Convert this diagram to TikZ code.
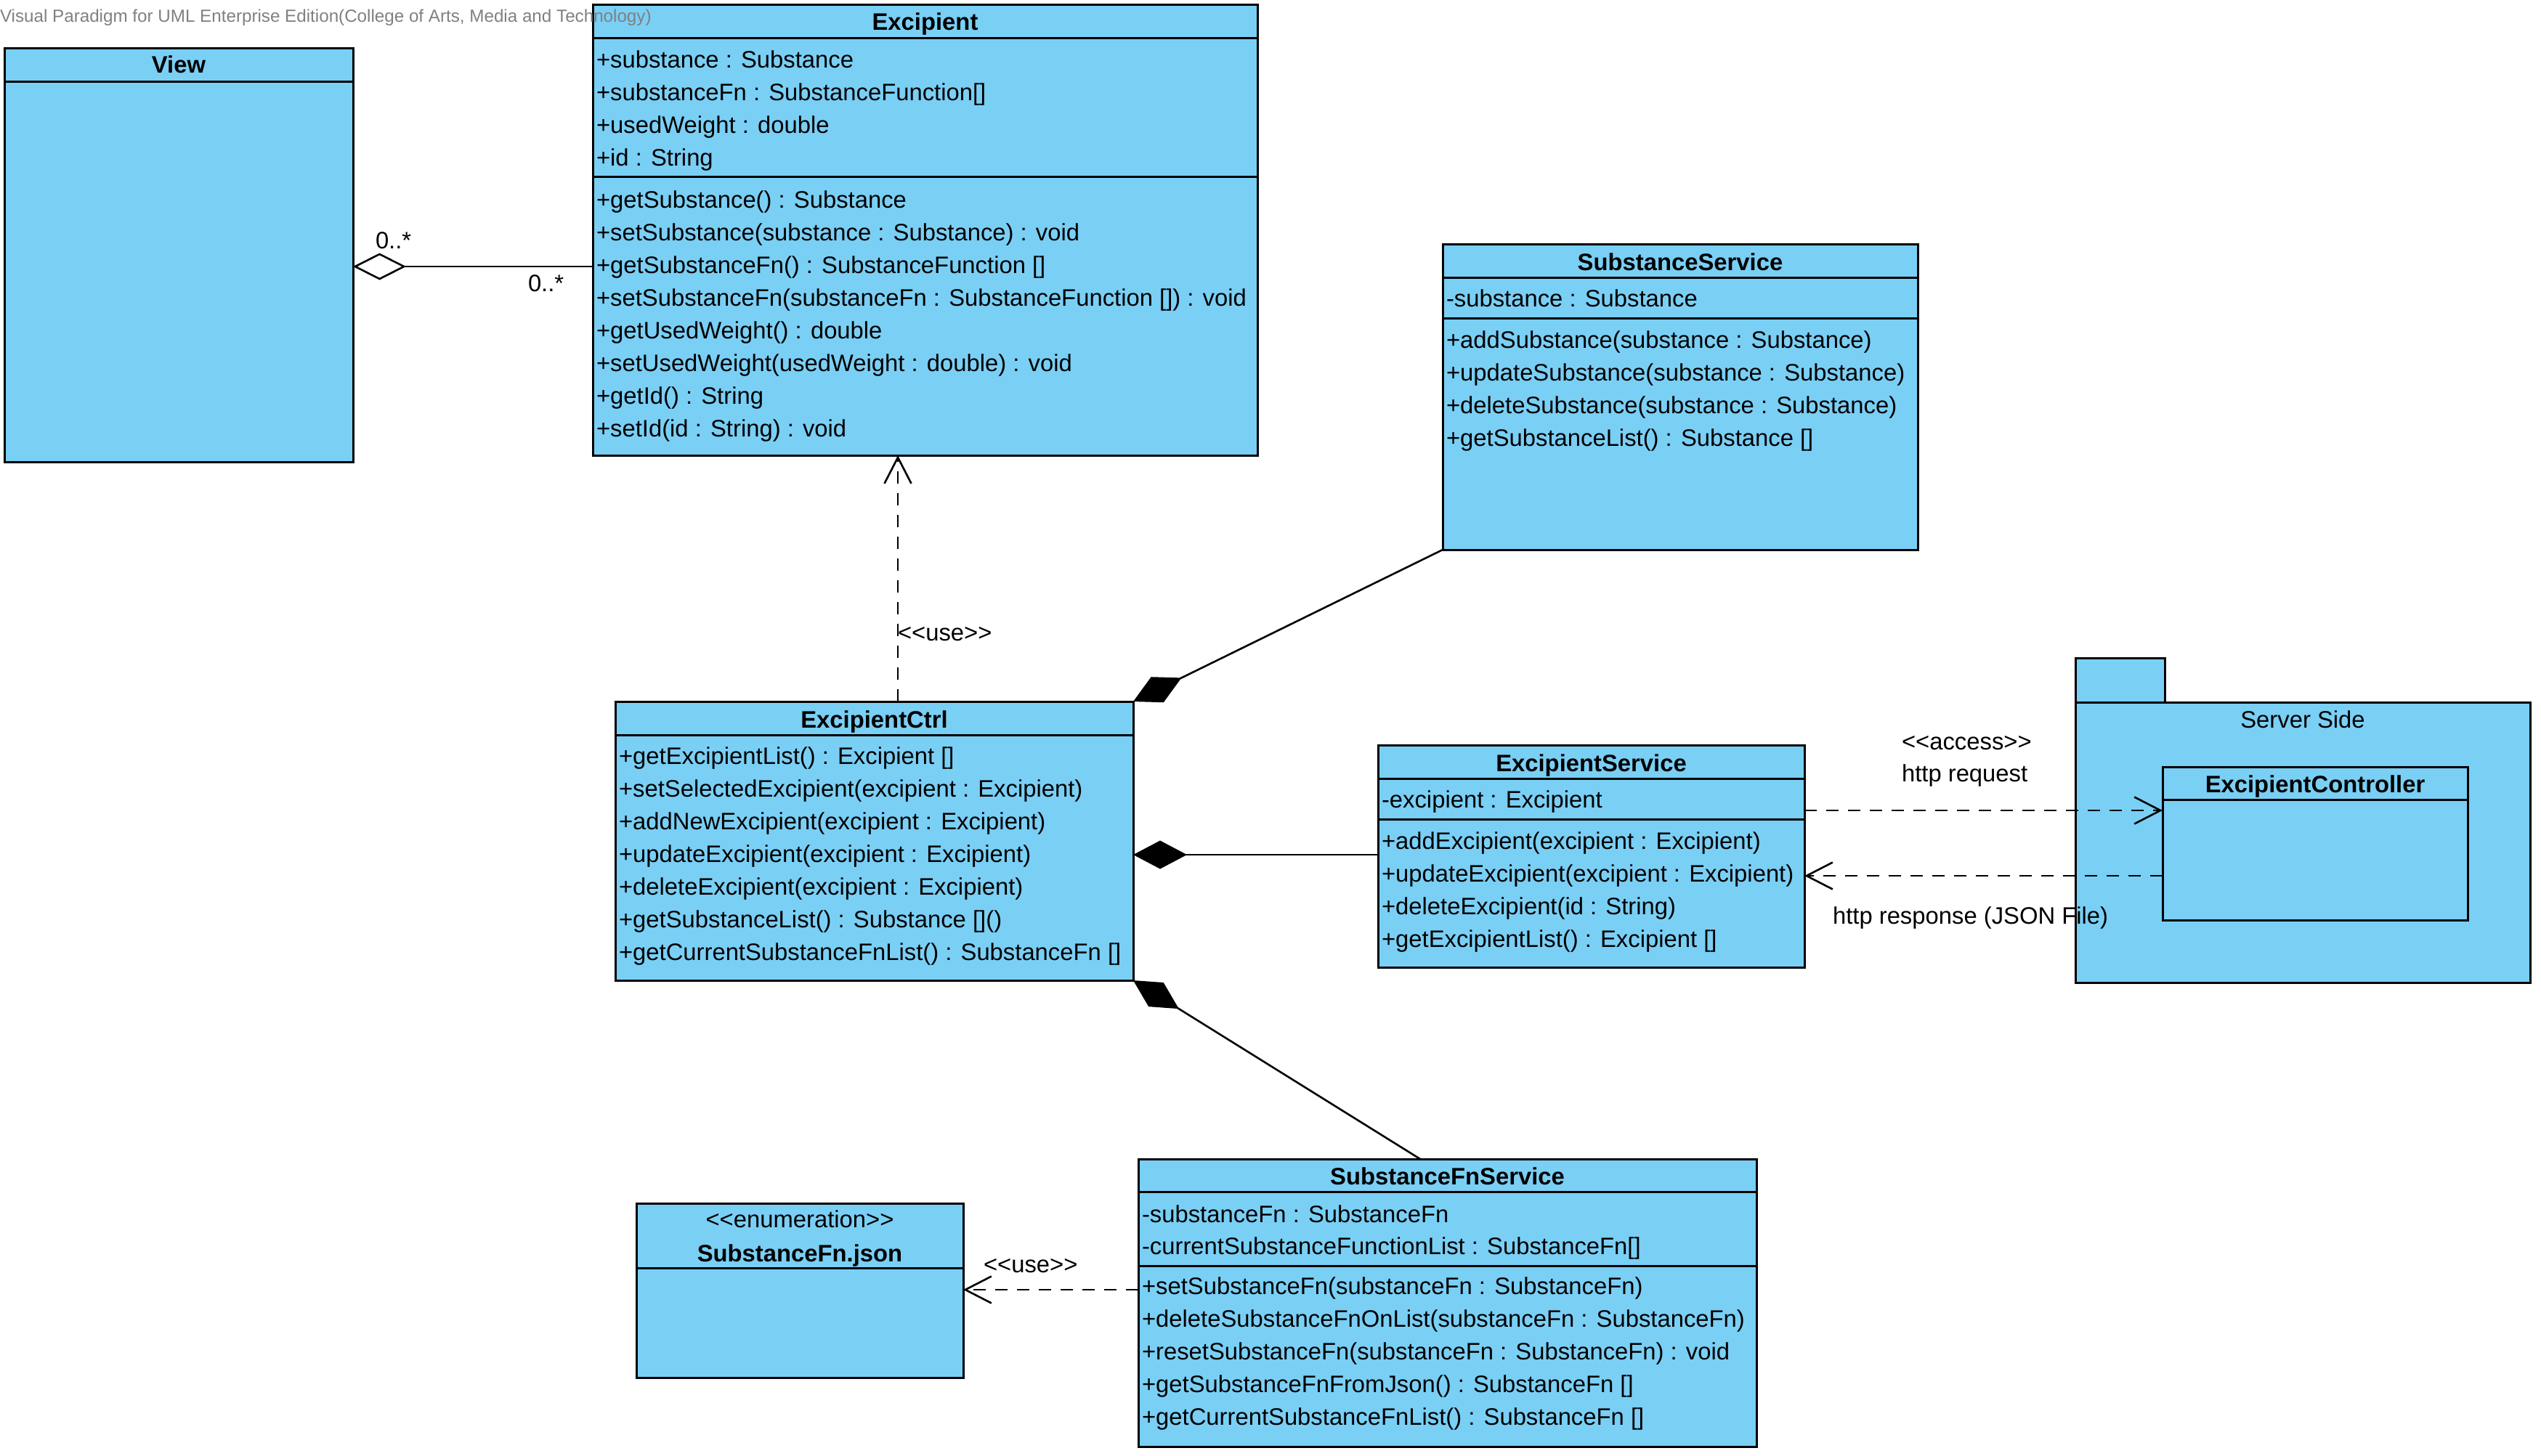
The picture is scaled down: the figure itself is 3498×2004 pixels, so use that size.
\documentclass[tikz,border=0pt]{standalone}
\usepackage{fontspec}
\newfontfamily\umlfont{Liberation Sans}
\usetikzlibrary{arrows.meta}
\definecolor{umlblue}{RGB}{122,207,245}
\definecolor{wmgray}{RGB}{128,128,128}
\newcommand\umlbox[5]{\node[box,anchor=north west,minimum width={(#4-#2)*0.25pt},minimum height={(#5-#3)*0.25pt}] (#1) at (#2,#3) {};}
\newcommand\hsep[2]{\draw[boxline] (#1.west |- 0,#2) -- (#1.east |- 0,#2);}
\newcommand\umltitle[4]{\node[title,anchor=base] (#1) at (#2,#3) {#4};}
\newcommand\umlrows[5]{\foreach \rowtext [count=\i] in {#5} {\node[txt,anchor=base west] (#1\i) at (#2,{#3+#4*(\i-1)}) {\rowtext};}}
\begin{document}
\begin{tikzpicture}[x=0.25pt,y=-0.25pt,
 font=\umlfont\fontsize{8.2pt}{9.8pt}\selectfont,
 box/.style={draw=black, fill=umlblue, line width=0.75pt, inner sep=0pt, outer sep=0pt},
 boxline/.style={line width=0.75pt},
 txt/.style={inner sep=0pt, outer sep=0pt},
 title/.style={inner sep=0pt, outer sep=0pt, font=\umlfont\fontsize{8.2pt}{9.8pt}\selectfont\bfseries},
 conn/.style={line width=0.65pt},
 dep/.style={conn, dash pattern=on 4.25pt off 3.25pt, -{Straight Barb[length=9pt,width=9.25pt]}},
 comp/.style={conn, -{Diamond[length=18.5pt,width=9.75pt]}},
 aggr/.style={conn, -{Diamond[open,length=18.25pt,width=9.25pt]}},
]
\useasboundingbox (0,0) rectangle (3498,2004);

% View
\umlbox{view}{6}{66}{486}{636}
\hsep{view}{112}
\umltitle{viewT}{246}{100}{View}

% Excipient
\umlbox{exc}{816}{6}{1731}{627}
\hsep{exc}{52}
\hsep{exc}{243}
\umltitle{excT}{1273.5}{41.5}{Excipient}
\umlrows{excA}{821}{93}{45}{+substance : Substance, +substanceFn : SubstanceFunction[], +usedWeight : double, +id : String}
\umlrows{excM}{821}{286}{45}{+getSubstance() : Substance, +setSubstance(substance : Substance) : void, +getSubstanceFn() : SubstanceFunction [], +setSubstanceFn(substanceFn : SubstanceFunction []) : void, +getUsedWeight() : double, +setUsedWeight(usedWeight : double) : void, +getId() : String, +setId(id : String) : void}

% SubstanceService
\umlbox{ss}{1986}{336}{2640}{757}
\hsep{ss}{382}
\hsep{ss}{438}
\umltitle{ssT}{2313}{372}{SubstanceService}
\umlrows{ssA}{1991}{422}{45}{-substance : Substance}
\umlrows{ssM}{1991}{479}{45}{+addSubstance(substance : Substance), +updateSubstance(substance : Substance), +deleteSubstance(substance : Substance), +getSubstanceList() : Substance []}

% ExcipientCtrl
\umlbox{ctrl}{847}{966}{1560}{1350}
\hsep{ctrl}{1012}
\umltitle{ctrlT}{1203.5}{1002}{ExcipientCtrl}
\umlrows{ctrlM}{852}{1052}{45}{+getExcipientList() : Excipient [], +setSelectedExcipient(excipient : Excipient), +addNewExcipient(excipient : Excipient), +updateExcipient(excipient : Excipient), +deleteExcipient(excipient : Excipient), +getSubstanceList() : Substance [](), +getCurrentSubstanceFnList() : SubstanceFn []}

% ExcipientService
\umlbox{es}{1897}{1026}{2484}{1332}
\hsep{es}{1072}
\hsep{es}{1128}
\umltitle{esT}{2190.5}{1062}{ExcipientService}
\umlrows{esA}{1902}{1112}{45}{-excipient : Excipient}
\umlrows{esM}{1902}{1169}{45}{+addExcipient(excipient : Excipient), +updateExcipient(excipient : Excipient), +deleteExcipient(id : String), +getExcipientList() : Excipient []}

% Server Side package
\umlbox{pkgtab}{2857}{906}{2980}{967}
\umlbox{pkg}{2857}{967}{3483}{1353}
\node[txt,anchor=base] (pkgT) at (3170,1002) {Server Side};

% ExcipientController
\umlbox{ec}{2977}{1056}{3397}{1267}
\hsep{ec}{1101}
\umltitle{ecT}{3187}{1091}{ExcipientController}

% SubstanceFnService
\umlbox{sfs}{1567}{1596}{2418}{1992}
\hsep{sfs}{1641}
\hsep{sfs}{1743}
\umltitle{sfsT}{1992.5}{1631}{SubstanceFnService}
\umlrows{sfsA}{1572}{1683}{44}{-substanceFn : SubstanceFn, -currentSubstanceFunctionList : SubstanceFn[]}
\umlrows{sfsM}{1572}{1782}{45}{+setSubstanceFn(substanceFn : SubstanceFn), +deleteSubstanceFnOnList(substanceFn : SubstanceFn), +resetSubstanceFn(substanceFn : SubstanceFn) : void, +getSubstanceFnFromJson() : SubstanceFn [], +getCurrentSubstanceFnList() : SubstanceFn []}

% SubstanceFn.json
\umlbox{json}{876}{1657}{1326}{1897}
\hsep{json}{1746}
\node[txt,anchor=base] (jsonS) at (1101,1690) {<<enumeration>>};
\umltitle{jsonT}{1101}{1737}{SubstanceFn.json}

% Connectors
\coordinate (aggY) at (0,367);
\draw[aggr] (exc.west |- aggY) -- (view.east |- aggY);
\node[txt,anchor=base west] (mulA) at (517,342) {0..*};
\node[txt,anchor=base west] (mulB) at (727,401) {0..*};

\coordinate (useX) at (1236,0);
\draw[dep] (ctrl.north -| useX) -- (exc.south -| useX);
\node[txt,anchor=base west] (useA) at (1236,882) {<<use>>};

\draw[comp] (ss.south west) -- (ctrl.north east);
\coordinate (compY) at (0,1177);
\draw[comp] (es.west |- compY) -- (ctrl.east |- compY);
\coordinate (sfX) at (1955,0);
\draw[comp] (sfs.north -| sfX) -- (ctrl.south east);

\coordinate (reqY) at (0,1116);
\coordinate (resY) at (0,1206);
\draw[dep] (es.east |- reqY) -- (ec.west |- reqY);
\draw[dep] (ec.west |- resY) -- (es.east |- resY);
\node[txt,anchor=base west] (accL) at (2618,1032) {<<access>>};
\node[txt,anchor=base west] (reqL) at (2618,1076) {http request};
\node[txt,anchor=base west] (resL) at (2523,1272) {http response (JSON File)};

\coordinate (use2Y) at (0,1776);
\draw[dep] (sfs.west |- use2Y) -- (json.east |- use2Y);
\node[txt,anchor=base west] (useB) at (1354,1752) {<<use>>};

% watermark
\node[txt,anchor=base west,text=wmgray,font=\umlfont\fontsize{6.05pt}{7pt}\selectfont] (wm) at (0,30) {Visual Paradigm for UML Enterprise Edition(College of Arts, Media and Technology)};
\end{tikzpicture}
\end{document}
